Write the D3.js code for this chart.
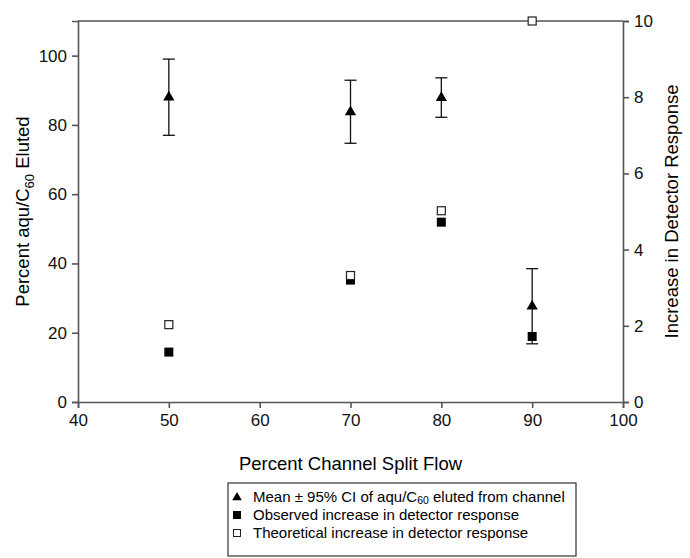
<!DOCTYPE html>
<html>
<head>
<meta charset="utf-8">
<script src="https://cdnjs.cloudflare.com/ajax/libs/d3/7.8.5/d3.min.js"></script>
<style>
  body { margin: 0; background: #fff; }
  svg { font-family: "Liberation Sans", Arial, sans-serif; }
  .axis path, .axis line { stroke: #555; stroke-width: 1.6px; }
  .axis text { font-size: 17px; fill: #111; }
</style>
</head>
<body>
<div id="chart"></div>
<script>
// data
var split_flow = [50, 70, 80, 90];
var eluted_mean = [88.3, 84.0, 88.1, 27.9];
var eluted_upper = [99.0, 92.9, 93.6, 38.5];
var eluted_lower = [77.0, 74.7, 82.2, 16.8];
var observed_increase = [1.31, 3.2, 4.72, 1.72];
var theoretical_increase = [2.03, 3.32, 5.02, 10.0];

var x_ticks = [40, 50, 60, 70, 80, 90, 100];
var left_ticks = [0, 20, 40, 60, 80, 100];
var right_ticks = [0, 2, 4, 6, 8, 10];

var margin = {left: 78, right: 67, top: 21, bottom: 156};
var W = 690, H = 558;
var width = W - margin.left - margin.right, height = H - margin.top - margin.bottom;

var svg = d3.select("#chart").append("svg")
    .attr("width", W)
    .attr("height", H)
  .append("g")
    .attr("transform", "translate(" + margin.left + "," + margin.top + ")");

var x = d3.scaleLinear().domain([40, 100]).range([0, width]);
var yL = d3.scaleLinear().domain([0, 110]).range([height, 0]);
var yR = d3.scaleLinear().domain([0, 10]).range([height, 0]);

// top frame line
svg.append("line")
    .attr("x1", 0).attr("x2", width)
    .attr("y1", 0).attr("y2", 0)
    .style("stroke", "#555").style("stroke-width", 1.6);

svg.append("g")
    .attr("class", "axis")
    .attr("transform", "translate(0," + height + ")")
    .call(d3.axisBottom(x).tickValues(x_ticks).tickSizeOuter(0).tickSize(6).tickPadding(6));

svg.append("g")
    .attr("class", "axis")
    .call(d3.axisLeft(yL).tickValues(left_ticks).tickSizeOuter(0).tickSize(6).tickPadding(5));

svg.append("g")
    .attr("class", "axis")
    .attr("transform", "translate(" + width + ",0)")
    .call(d3.axisRight(yR).tickValues(right_ticks).tickSizeOuter(0).tickSize(6).tickPadding(5));

// axis titles
svg.append("text")
    .attr("x", x(70))
    .attr("y", height + 68)
    .attr("text-anchor", "middle")
    .style("font-size", "18.5px")
    .text("Percent Channel Split Flow");

var lt = svg.append("text")
    .attr("transform", "translate(" + (-49) + "," + yL(55) + ") rotate(-90)")
    .attr("text-anchor", "middle")
    .style("font-size", "18.5px");
lt.append("tspan").text("Percent aqu/C");
lt.append("tspan").attr("dy", 5).style("font-size", "13px").text("60");
lt.append("tspan").attr("dy", -5).text(" Eluted");

svg.append("text")
    .attr("transform", "translate(" + (width + 55) + "," + yL(55) + ") rotate(-90)")
    .attr("text-anchor", "middle")
    .style("font-size", "18.5px")
    .text("Increase in Detector Response");

var rows = split_flow.map(function(d, i){
  return {x: d, mean: eluted_mean[i], hi: eluted_upper[i], lo: eluted_lower[i],
          obs: observed_increase[i], theo: theoretical_increase[i]};
});

// error bars
var err = svg.append("g").attr("class", "errors")
  .selectAll("g").data(rows).enter().append("g")
    .style("stroke", "#111").style("stroke-width", 1.3);
err.append("line")
    .attr("x1", function(d){ return x(d.x); }).attr("x2", function(d){ return x(d.x); })
    .attr("y1", function(d){ return yL(d.hi); }).attr("y2", function(d){ return yL(d.lo); });
err.append("line")
    .attr("x1", function(d){ return x(d.x) - 6; }).attr("x2", function(d){ return x(d.x) + 6; })
    .attr("y1", function(d){ return yL(d.hi); }).attr("y2", function(d){ return yL(d.hi); });
err.append("line")
    .attr("x1", function(d){ return x(d.x) - 6; }).attr("x2", function(d){ return x(d.x) + 6; })
    .attr("y1", function(d){ return yL(d.lo); }).attr("y2", function(d){ return yL(d.lo); });

// triangles
var tri = d3.symbol().type(d3.symbolTriangle).size(55);
svg.append("g").selectAll("path").data(rows).enter().append("path")
    .attr("d", tri)
    .attr("transform", function(d){ return "translate(" + x(d.x) + "," + (yL(d.mean) + 1) + ")"; })
    .style("fill", "#000");

// observed (filled squares)
var sq = 9;
svg.append("g").selectAll("rect").data(rows).enter().append("rect")
    .attr("x", function(d){ return x(d.x) - sq / 2; })
    .attr("y", function(d){ return yR(d.obs) - sq / 2; })
    .attr("width", sq).attr("height", sq)
    .style("fill", "#000");

// theoretical (open squares)
var osq = 8;
svg.append("g").selectAll("rect").data(rows).enter().append("rect")
    .attr("x", function(d){ return x(d.x) - osq / 2; })
    .attr("y", function(d){ return yR(d.theo) - osq / 2; })
    .attr("width", osq).attr("height", osq)
    .style("fill", "#fff").style("stroke", "#222").style("stroke-width", 1.2);

// legend
var lg = d3.select("svg").append("g").attr("transform", "translate(228,483)");
lg.append("rect")
    .attr("width", 348).attr("height", 73)
    .style("fill", "none").style("stroke", "#333").style("stroke-width", 1.2);

var leg_y = [14, 32, 50];
lg.append("path")
    .attr("d", d3.symbol().type(d3.symbolTriangle).size(40))
    .attr("transform", "translate(9," + (leg_y[0] + 0.5) + ")");
lg.append("rect")
    .attr("x", 5).attr("y", leg_y[1] - 4).attr("width", 8).attr("height", 8);
lg.append("rect")
    .attr("x", 5.5).attr("y", leg_y[2] - 3.5).attr("width", 7).attr("height", 7)
    .style("fill", "#fff").style("stroke", "#222").style("stroke-width", 1);

var t1 = lg.append("text").attr("x", 25).attr("y", leg_y[0] + 5).style("font-size", "15px");
t1.append("tspan").text("Mean \u00b1 95% CI of aqu/C");
t1.append("tspan").attr("dy", 2).style("font-size", "10.5px").text("60");
t1.append("tspan").attr("dy", -2).text(" eluted from channel");
lg.append("text").attr("x", 25).attr("y", leg_y[1] + 5).style("font-size", "15px")
    .text("Observed increase in detector response");
lg.append("text").attr("x", 25).attr("y", leg_y[2] + 5).style("font-size", "15px")
    .text("Theoretical increase in detector response");
</script>
</body>
</html>
